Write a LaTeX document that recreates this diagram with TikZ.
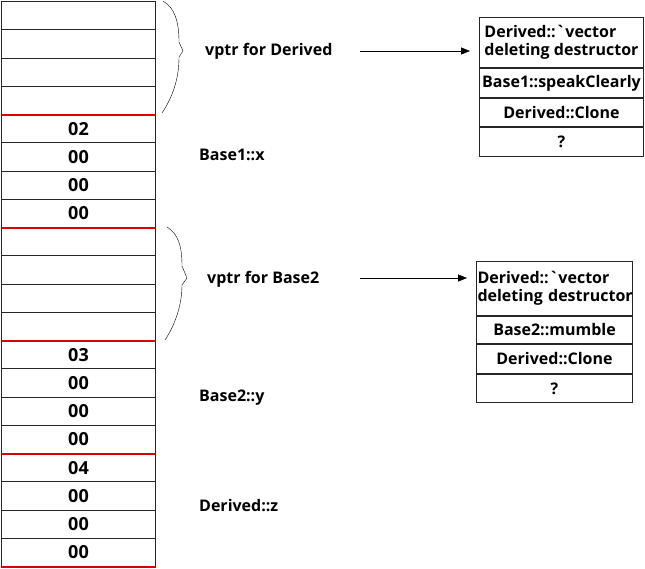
\documentclass[tikz,border=0pt]{standalone}
\usepackage{fontspec}
\setmainfont{Open Sans}
\usetikzlibrary{arrows.meta,positioning}
\newcommand{\figfont}{\bfseries\fontsize{16}{17.5}\selectfont}
\tikzset{memcell/.style={
    % The shape:
    rectangle,
    % The size:
    minimum width=154pt,
    minimum height=28.25pt,
    inner sep=0pt,
    % The border:
    line width=1pt,
    draw=black!85,
    % Font
    font=\bfseries\fontsize{18}{18}\selectfont
    },
    vtslot/.style={
    rectangle,
    minimum width=164pt,
    inner xsep=2pt,
    inner ysep=0pt,
    line width=1pt,
    draw=black!85,
    align=left,
    font=\figfont
    },
    note/.style={
    anchor=west,
    inner sep=0pt,
    font=\figfont
    },
    divider/.style={draw=red!85!black, line width=2.5pt},
    pointer/.style={-{Triangle[length=9pt,width=7pt]}, shorten >=9pt},
}

\begin{document}
\begin{tikzpicture}[x=1pt,y=-1pt,node distance=0pt]
    \useasboundingbox (0,0) rectangle (645,568);

    % memory layout
    \foreach \i/\v in {0/{},1/{},2/{},3/{},4/02,5/00,6/00,7/00,
                       8/{},9/{},10/{},11/{},12/03,13/00,14/00,15/00,
                       16/04,17/00,18/00,19/00}
        \node (cell\i) [memcell,anchor=north west] at (1,{1+28.25*\i}) {\v};
    \foreach \i in {3,7,11,15,19}
        \draw[divider] (cell\i.south west) -- (cell\i.south east);

    % braces
    \draw (163,1) .. controls (175,8) and (179,22) .. (179,42) -- (183,51) -- (179,57)
          .. controls (179,80) and (172,98) .. (162,113);
    \draw (167,227) .. controls (178,234) and (182,245) .. (182,266) -- (187,278) -- (182,285)
          .. controls (182,305) and (175,325) .. (165,340);

    % labels
    \node (vptrD)   [note] at (205,51)  {vptr for Derived};
    \node (baseX)   [note] at (199,155) {Base1::x};
    \node (vptrB)   [note] at (207,279) {vptr for Base2};
    \node (baseY)   [note] at (199,398) {Base2::y};
    \node (derivZ)  [note] at (199,506) {Derived::z};

    % vtable for Derived
    \node (dvt1) [vtslot,minimum height=50pt,anchor=north west] at (479,17)
        {Derived::\textasciigrave vector\\deleting destructor};
    \node (dvt2) [vtslot,minimum height=29pt,below=of dvt1] {Base1::speakClearly};
    \node (dvt3) [vtslot,minimum height=28pt,below=of dvt2] {Derived::Clone};
    \node (dvt4) [vtslot,minimum height=29pt,below=of dvt3] {?};

    % vtable for Base2
    \node (bvt1) [vtslot,minimum width=156pt,minimum height=54pt,text width=154pt,
                  inner xsep=1pt,anchor=north west] at (476,261)
        {Derived::\textasciigrave vector\\\mbox{deleting destructor}};
    \node (bvt2) [vtslot,minimum width=156pt,minimum height=27pt,below=of bvt1] {Base2::mumble};
    \node (bvt3) [vtslot,minimum width=156pt,minimum height=29pt,below=of bvt2] {Derived::Clone};
    \node (bvt4) [vtslot,minimum width=156pt,minimum height=28pt,below=of bvt3] {?};

    % pointers
    \coordinate (fromD) at (360,51);
    \coordinate (fromB) at (360,278);
    \draw[pointer] (fromD) -- (fromD -| dvt1.west);
    \draw[pointer] (fromB) -- (fromB -| bvt1.west);
\end{tikzpicture}
\end{document}
